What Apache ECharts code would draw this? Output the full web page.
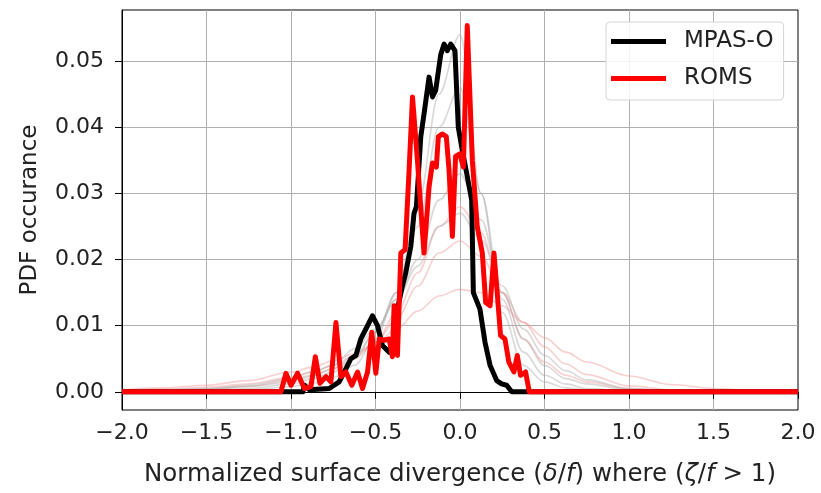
<!DOCTYPE html>
<html>
<head>
<meta charset="utf-8">
<script src="https://cdn.jsdelivr.net/npm/echarts@6/dist/echarts.min.js"></script>
<style>html,body{margin:0;padding:0;background:#fff;}#c{width:821px;height:493px;}</style>
</head>
<body>
<div id="c"></div>
<script>
// ---- data ----
var xTicks = [-2, -1.5, -1, -0.5, 0, 0.5, 1, 1.5, 2];
var yTicks = [0, 0.01, 0.02, 0.03, 0.04, 0.05];

var mpasX = [-2, -0.93, -0.921, -0.89, -0.774, -0.715, -0.665, -0.646, -0.616, -0.587, -0.557, -0.518, -0.488, -0.459, -0.419, -0.390, -0.370, -0.341, -0.321, -0.291, -0.272, -0.258, -0.232, -0.213, -0.183, -0.163, -0.144, -0.114, -0.094, -0.075, -0.055, -0.030, -0.010, 0.01, 0.04, 0.069, 0.079, 0.118, 0.148, 0.178, 0.217, 0.246, 0.276, 0.306, 2];
var mpasY = [0, 0, 0.001, 0.0003, 0.0005, 0.0015, 0.004, 0.005, 0.0055, 0.008, 0.0095, 0.0115, 0.010, 0.007, 0.006, 0.008, 0.0125, 0.016, 0.018, 0.022, 0.027, 0.028, 0.0386, 0.042, 0.0476, 0.0446, 0.0456, 0.051, 0.0526, 0.0516, 0.0526, 0.0516, 0.040, 0.037, 0.033, 0.029, 0.015, 0.0125, 0.0075, 0.004, 0.0017, 0.0012, 0.001, 0, 0];

var romsX = [-2, -1.06, -1.03, -1.0, -0.961, -0.921, -0.882, -0.856, -0.829, -0.793, -0.764, -0.734, -0.705, -0.675, -0.640, -0.606, -0.577, -0.547, -0.522, -0.498, -0.478, -0.449, -0.419, -0.400, -0.390, -0.370, -0.350, -0.325, -0.301, -0.281, -0.252, -0.213, -0.183, -0.163, -0.140, -0.128, -0.104, -0.081, -0.065, -0.045, -0.026, -0.002, 0.020, 0.043, 0.073, 0.102, 0.132, 0.152, 0.178, 0.201, 0.220, 0.240, 0.266, 0.289, 0.319, 0.339, 0.358, 0.388, 0.41, 2];
var romsY = [0, 0, 0.0028, 0.001, 0.0028, 0.0005, 0.0008, 0.0053, 0.0013, 0.0023, 0.0015, 0.0105, 0.0023, 0.003, 0.001, 0.003, 0.0005, 0.003, 0.009, 0.0028, 0.008, 0.0078, 0.008, 0.0053, 0.013, 0.0055, 0.021, 0.0215, 0.0336, 0.0446, 0.035, 0.021, 0.031, 0.0346, 0.034, 0.0386, 0.039, 0.0386, 0.0336, 0.0235, 0.0356, 0.036, 0.034, 0.0554, 0.035, 0.025, 0.021, 0.0135, 0.013, 0.021, 0.015, 0.0085, 0.008, 0.0045, 0.003, 0.0055, 0.0025, 0.003, 0, 0];

var faintX = [-2, -1.75, -1.5, -1.25, -1, -0.875, -0.75, -0.625, -0.5, -0.375, -0.25, -0.125, 0, 0.125, 0.25, 0.375, 0.5, 0.625, 0.75, 1, 1.25, 1.5, 1.75, 2];
var pink1 = [0.0003,0.0006,0.001,0.0017,0.003,0.0037,0.0047,0.0058,0.0073,0.0095,0.0122,0.0145,0.0155,0.015,0.013,0.0105,0.0082,0.006,0.0045,0.0024,0.0011,0.0005,0.0002,0.0001];
var pink2 = [0.0002,0.0004,0.0007,0.0012,0.0022,0.003,0.004,0.0055,0.0075,0.011,0.016,0.021,0.0228,0.0205,0.015,0.0105,0.0068,0.0042,0.0026,0.0009,0.0003,0.0001,0,0];
var pink3 = [0.0001,0.0002,0.0004,0.0008,0.0018,0.0025,0.0035,0.005,0.0075,0.012,0.018,0.025,0.028,0.024,0.015,0.008,0.0045,0.0025,0.0015,0.0005,0.0001,0,0,0];
var gray1 = [0,0,0.0001,0.0003,0.0008,0.0013,0.0022,0.004,0.008,0.015,0.028,0.045,0.054,0.03,0.012,0.004,0.0015,0.0006,0.0003,0.0001,0,0,0,0];
var gray2 = [0,0.0001,0.0002,0.0005,0.0012,0.002,0.003,0.005,0.009,0.015,0.025,0.04,0.046,0.03,0.014,0.006,0.0025,0.0012,0.0005,0.0001,0,0,0,0];
var gray3 = [0.0001,0.0002,0.0004,0.0008,0.0015,0.0024,0.0035,0.0055,0.009,0.014,0.02,0.029,0.033,0.026,0.015,0.008,0.004,0.002,0.0012,0.0003,0.0001,0,0,0];
var gray4 = [0.0001,0.0003,0.0005,0.001,0.002,0.003,0.004,0.0065,0.0095,0.014,0.019,0.025,0.027,0.023,0.016,0.0095,0.0055,0.0032,0.0018,0.0005,0.0001,0,0,0];

// ---- build ----
function zip(xs, ys){ return xs.map(function(x,i){ return [x, ys[i]]; }); }
var FONT = 'DejaVu Sans';
function faint(name, ys, color){
  return { name: name, type: 'line', data: zip(faintX, ys), showSymbol: false, silent: true,
    smooth: 0.35, smoothMonotone: 'x', z: 1,
    lineStyle: { color: color, width: 1.6 } };
}
function fmtMinus(v, d){ var s = Math.abs(v).toFixed(d); return (v < 0 ? '\u2212' : '') + s; }

var chart = echarts.init(document.getElementById('c'), null, { renderer: 'canvas' });
chart.setOption({
  backgroundColor: '#fff',
  animation: false,
  grid: { left: 122, right: 23, top: 10, bottom: 83, show: true, borderColor: '#000', borderWidth: 1, backgroundColor: 'transparent' },
  legend: {
    data: ['MPAS-O', 'ROMS'], orient: 'vertical', left: 606, top: 22,
    icon: 'rect', itemWidth: 55, itemHeight: 5, itemGap: 14,
    padding: [8, 10, 10, 5],
    backgroundColor: 'rgba(255,255,255,0.85)', borderColor: '#d5d5d5', borderWidth: 1, borderRadius: 4,
    textStyle: { fontFamily: FONT, fontSize: 23, color: '#222', padding: [0, 0, 0, 13] }
  },
  xAxis: {
    type: 'value', min: -2, max: 2, interval: 0.5,
    name: '{n|Normalized surface divergence (}{i|\u03b4}{n|/}{i|f}{n|) where (}{i|\u03b6}{n|/}{i|f}{n| > 1)}',
    nameLocation: 'middle', nameGap: 52,
    nameTextStyle: { rich: { n: { fontFamily: FONT, fontSize: 24.5, color: '#222' }, i: { fontFamily: FONT, fontSize: 24.5, fontStyle: 'italic', color: '#222' } } },
    axisLine: { show: true, lineStyle: { color: '#000', width: 1 } },
    axisTick: { show: true, inside: false, length: 7, lineStyle: { color: '#000' } },
    axisLabel: { fontFamily: FONT, fontSize: 22, color: '#222', margin: 12, formatter: function(v){ return fmtMinus(v, 1); } },
    splitLine: { show: true, showMinLine: false, showMaxLine: false, lineStyle: { color: '#b0b0b0', width: 1 } }
  },
  yAxis: {
    type: 'value', min: -0.00275, max: 0.05775,
    name: 'PDF occurance', nameLocation: 'middle', nameGap: 80,
    nameTextStyle: { fontFamily: FONT, fontSize: 23, color: '#222' },
    axisLine: { show: true, onZero: false, lineStyle: { color: '#000', width: 1 } },
    axisTick: { show: true, length: 7, lineStyle: { color: '#000' }, customValues: yTicks },
    axisLabel: { fontFamily: FONT, fontSize: 22, color: '#222', margin: 18, customValues: yTicks, formatter: function(v){ return fmtMinus(v, 2); } },
    splitLine: { show: true, lineStyle: { color: '#b0b0b0', width: 1 } }
  },
  series: [
    faint('p1', pink1, 'rgba(240,150,150,0.45)'),
    faint('p2', pink2, 'rgba(240,150,150,0.45)'),
    faint('p3', pink3, 'rgba(240,150,150,0.45)'),
    faint('g1', gray1, 'rgba(170,170,170,0.45)'),
    faint('g2', gray2, 'rgba(170,170,170,0.45)'),
    faint('g3', gray3, 'rgba(170,170,170,0.45)'),
    faint('g4', gray4, 'rgba(170,170,170,0.45)'),
    { name: 'MPAS-O', type: 'line', data: zip(mpasX, mpasY), showSymbol: false, z: 3,
      itemStyle: { color: '#000' }, lineStyle: { color: '#000', width: 5, join: 'round' } },
    { name: 'ROMS', type: 'line', data: zip(romsX, romsY), showSymbol: false, z: 4,
      itemStyle: { color: '#ff0000' }, lineStyle: { color: '#ff0000', width: 5, join: 'round' } }
  ]
});
</script>
</body>
</html>
